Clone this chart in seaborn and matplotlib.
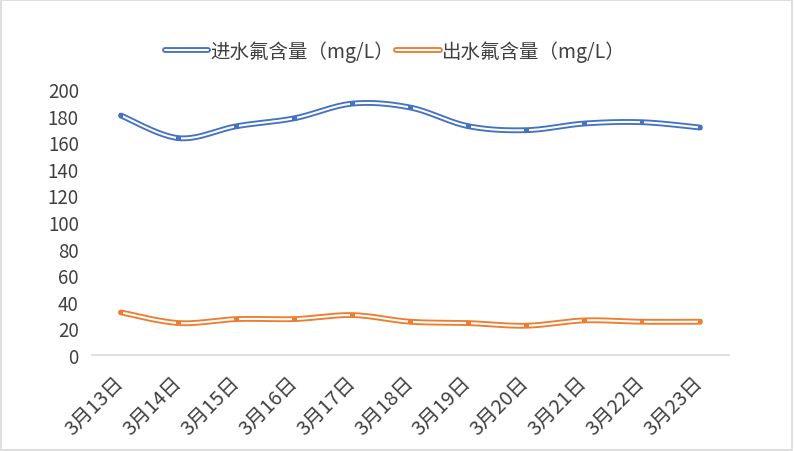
import numpy as np
import pandas as pd
import seaborn as sns
import matplotlib.pyplot as plt
from matplotlib import patheffects as pe
from matplotlib.patches import Rectangle

# data
dates = ['3月13日', '3月14日', '3月15日', '3月16日', '3月17日', '3月18日',
         '3月19日', '3月20日', '3月21日', '3月22日', '3月23日']
inflow = [180, 163, 172, 178, 189, 186, 172, 169, 174, 175, 171]
outflow = [32, 24, 27, 27, 30, 25, 24, 22, 26, 25, 25]
series_names = ['进水氟含量（mg/L）', '出水氟含量（mg/L）']
colors = ['#4472C4', '#ED7D31']
yticks = list(range(0, 201, 20))


def smooth(y, n=24):
    ''' excel style smoothed line: bezier segments with catmull-rom control points '''
    y = np.asarray(y, float)
    x = np.arange(len(y), dtype=float)
    px = np.concatenate([[x[0]], x, [x[-1]]])
    py = np.concatenate([[y[0]], y, [y[-1]]])
    t = np.linspace(0, 1, n, endpoint=False)[:, None]
    xs, ys = [], []
    for i in range(len(y) - 1):
        p0 = np.array([px[i], py[i]])
        p1 = np.array([px[i + 1], py[i + 1]])
        p2 = np.array([px[i + 2], py[i + 2]])
        p3 = np.array([px[i + 3], py[i + 3]])
        c1 = p1 + (p2 - p0) / 6
        c2 = p2 - (p3 - p1) / 6
        b = ((1 - t) ** 3) * p1 + 3 * ((1 - t) ** 2) * t * c1 + 3 * (1 - t) * t ** 2 * c2 + t ** 3 * p2
        xs.append(b[:, 0])
        ys.append(b[:, 1])
    xs.append([x[-1]])
    ys.append([y[-1]])
    return np.concatenate(xs), np.concatenate(ys)


sns.set_style('white')
plt.rcParams['font.family'] = ['Noto Sans CJK SC', 'DejaVu Sans']

fig = plt.figure(figsize=(7.94, 4.52), dpi=100)
ax = fig.add_axes([0.1159, 0.2124, 0.8021, 0.5886])

df = pd.DataFrame({'date': dates * 2,
                   'pos': list(range(len(dates))) * 2,
                   'value': inflow + outflow,
                   'series': [series_names[0]] * len(dates) + [series_names[1]] * len(dates)})

for name, col in zip(series_names, colors):
    sub = df[df['series'] == name]
    sx, sy = smooth(sub['value'].values)
    ax.plot(sx, sy, color='white', lw=1.5, solid_capstyle='round', label=name,
            path_effects=[pe.Stroke(linewidth=4.2, foreground=col, capstyle='round'), pe.Normal()], zorder=3)

sns.scatterplot(data=df, x='pos', y='value', hue='series', palette=colors, marker='s',
                s=12, linewidth=0, legend=False, ax=ax, zorder=4)

ax.set_xlim(-0.5, len(dates) - 0.5)
ax.set_ylim(0, 200)
ax.set_yticks(yticks)
ax.set_xticks(range(len(dates)))
ax.set_xticklabels(dates, rotation=45, ha='right', va='center', rotation_mode='anchor')
ax.tick_params(axis='both', length=0, labelcolor='#404040')
ax.tick_params(axis='y', pad=9.5, labelsize=13.5)
ax.tick_params(axis='x', pad=17.5, labelsize=14.5)
ax.set_xlabel('')
ax.set_ylabel('')
for s in ['top', 'right', 'left']:
    ax.spines[s].set_visible(False)
ax.spines['bottom'].set_color('#D9D9D9')
ax.spines['bottom'].set_linewidth(1.2)

fig.legend(loc='center', bbox_to_anchor=(0.4975, 0.885), ncol=2, frameon=False,
           fontsize=14, handlelength=2.25, columnspacing=0.1, handletextpad=0.1,
           labelcolor='#404040')

# chart border
fig.patches.append(Rectangle((0.001, 0.002), 0.997, 0.996, transform=fig.transFigure,
                             fill=False, edgecolor='#D9D9D9', lw=1.2))

fig.savefig('out.png', dpi=100)
